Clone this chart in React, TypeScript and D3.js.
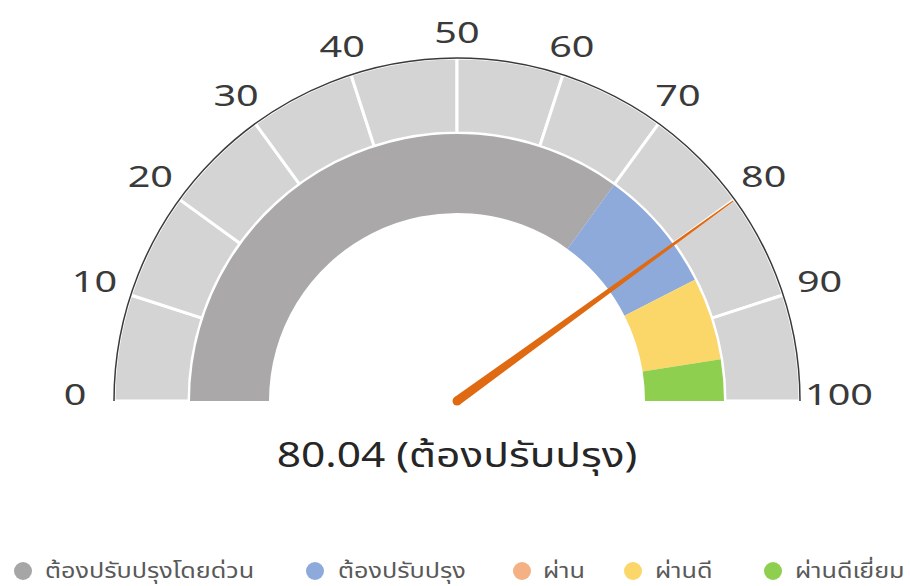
import { useMemo } from 'react';
import * as d3 from 'd3';

// gauge data
const ticks = [0, 10, 20, 30, 40, 50, 60, 70, 80, 90, 100];
const bandNames = ['ต้องปรับปรุงโดยด่วน', 'ต้องปรับปรุง', 'ผ่าน', 'ผ่านดี', 'ผ่านดีเยี่ยม'];
const bandEnds = [70, 85, 85, 95, 100];
const bandColors = ['#aaa8a9', '#8eaadb', '#f4b183', '#fbd669', '#8fcf4f'];
const legendColors = ['#a6a6a6', '#8eaadb', '#f4b183', '#fbd669', '#8fcf4f'];
const value = 80.04;
const valueLabel = '80.04 (ต้องปรับปรุง)';

const W = 910;
const H = 586;
const cx = 457;
const cy = 401;
const rOuter = 343;
const rMid = 268;
const rInner = 188;
const font = "'Noto Sans', 'Noto Sans Thai', sans-serif";

export default function App() {
  const angle = useMemo(() => d3.scaleLinear().domain([0, 100]).range([-Math.PI / 2, Math.PI / 2]), []);

  const outerArc = d3.arc<any>().innerRadius(rMid).outerRadius(rOuter);
  const bandArc = d3.arc<any>().innerRadius(rInner).outerRadius(rMid - 1);

  const segs = ticks.slice(0, -1).map((t, i) => ({ start: t, end: ticks[i + 1] }));
  const bands = bandEnds.map((e, i) => ({ start: i === 0 ? 0 : bandEnds[i - 1], end: e, color: bandColors[i] }));

  // needle
  const a = angle(value);
  const dir = [Math.sin(a), -Math.cos(a)];
  const perp = [Math.cos(a), Math.sin(a)];
  const tipR = rOuter - 2;
  const baseW = 4.5;
  const tipW = 0.6;
  const needle = [
    [baseW * perp[0], baseW * perp[1]],
    [tipR * dir[0] + tipW * perp[0], tipR * dir[1] + tipW * perp[1]],
    [tipR * dir[0] - tipW * perp[0], tipR * dir[1] - tipW * perp[1]],
    [-baseW * perp[0], -baseW * perp[1]],
  ];

  const legendX = [23, 315, 522, 633, 773];
  const legendTextX = [45, 338, 543, 655, 795];

  return (
    <svg width={W} height={H} style={{ position: 'absolute', left: 0, top: 0, background: '#fff' }}>
      <g transform={`translate(${cx},${cy})`}>
        {/* outer light gray segments */}
        {segs.map((s, i) => (
          <path
            key={`s-${i}`}
            d={outerArc({ startAngle: angle(s.start), endAngle: angle(s.end) }) || ''}
            fill="#d4d4d4"
            stroke="#fff"
            strokeWidth={3}
          />
        ))}
        {/* colored bands */}
        {bands.map((b, i) => (
          <path
            key={`b-${i}`}
            d={bandArc({ startAngle: angle(b.start), endAngle: angle(b.end) }) || ''}
            fill={b.color}
          />
        ))}
        {/* outer edge line */}
        <path
          d={d3.arc<any>().innerRadius(rOuter).outerRadius(rOuter)({ startAngle: angle(0), endAngle: angle(100) }) || ''}
          fill="none"
          stroke="#3a3a3a"
          strokeWidth={1.5}
        />
        {/* tick labels */}
        {ticks.map((t) => {
          const ta = angle(t);
          const lr = 367 + 15 * Math.abs(Math.sin(ta));
          const dy = t === 0 || t === 100 ? -4 : 1;
          return (
            <text
              key={`t-${t}`}
              transform={`translate(${lr * Math.sin(ta)},${-lr * Math.cos(ta) + dy}) scale(1.32,1)`}
              textAnchor="middle"
              dominantBaseline="middle"
              fontSize={30}
              fontFamily={font}
              fill="#3a3a3a"
            >
              {t}
            </text>
          );
        })}
        {/* needle */}
        <path d={(d3.line()(needle as [number, number][]) || '') + 'Z'} fill="#e06a12" />
        <circle r={baseW} fill="#e06a12" />
        <text
          transform="translate(0,57) scale(1.25,1)"
          textAnchor="middle"
          dominantBaseline="middle"
          fontSize={34}
          fontFamily={font}
          fill="#262626"
        >
          {valueLabel}
        </text>
      </g>
      {/* legend */}
      {bandNames.map((n, i) => (
        <g key={`l-${i}`}>
          <circle cx={legendX[i]} cy={571} r={9} fill={legendColors[i]} />
          <text
            transform={`translate(${legendTextX[i]},572) scale(1.2,1)`}
            dominantBaseline="middle"
            fontSize={21}
            fontFamily={font}
            fill="#595959"
          >
            {n}
          </text>
        </g>
      ))}
    </svg>
  );
}
